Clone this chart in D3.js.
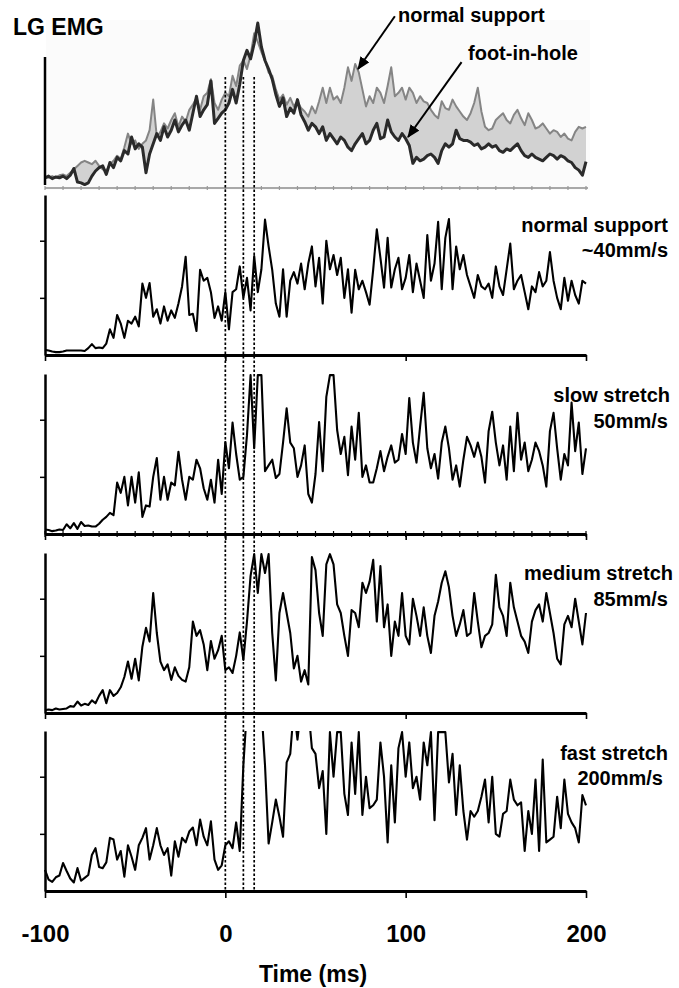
<!DOCTYPE html>
<html>
<head>
<meta charset="utf-8">
<script src="https://cdn.jsdelivr.net/npm/d3@7"></script>
<style>
  body { margin: 0; background: #fff; }
  text { font-family: "Liberation Sans", Arial, sans-serif; font-weight: bold; fill: #000; }
</style>
</head>
<body>
<svg id="chart"></svg>
<script>
var width = 679, height = 988;

// sampling: one value every 2 ms starting at -100 ms
var t0 = -100, step = 2;
var xTicks = [-100, 0, 100, 200];
var yTicks = [1, 2];
var markerTimes = [0, 10, 16];

// top panel (scanned figure): normal support vs foot-in-hole
var topNormal = [
  0.65,0.6,0.7,0.6,0.75,0.8,0.7,0.9,1.1,1.3,
  1.5,1.6,1.5,1.4,1.6,1.3,1.1,1.0,1.4,1.6,
  1.9,1.7,2.4,3.2,2.6,2.8,2.3,2.6,2.8,3.4,
  5.2,3.0,3.3,3.8,3.5,4.0,4.4,3.6,4.2,3.9,
  4.6,4.9,5.3,4.6,5.4,5.6,6.4,5.0,4.6,5.2,
  5.6,5.4,6.6,6.0,7.2,7.5,7.0,7.8,9.1,8.6,
  8.0,7.5,6.8,6.6,5.8,5.2,5.5,4.9,5.3,4.8,
  5.1,4.7,4.5,4.2,4.8,4.4,5.1,5.9,5.0,5.9,
  5.2,5.4,5.0,5.9,7.1,6.3,7.3,6.8,5.8,4.8,
  5.4,5.0,5.9,5.6,5.0,6.0,7.1,5.4,5.6,5.9,
  5.2,5.9,5.6,5.0,5.4,5.1,5.0,4.6,4.3,4.1,
  5.1,4.7,4.6,5.2,4.8,4.5,4.2,4.0,4.4,5.0,
  5.9,4.5,3.6,3.4,3.5,4.0,4.2,4.4,4.0,3.8,
  4.3,4.6,4.1,3.7,4.4,4.0,3.5,3.6,3.8,3.5,
  3.2,3.4,3.3,3.0,3.2,2.9,2.8,3.3,3.6,3.5,
  3.6];
var topHole = [
  0.6,0.7,0.55,0.65,0.6,0.7,0.55,0.75,1.15,0.35,
  0.3,0.2,0.3,0.7,1.0,1.2,1.3,0.8,1.5,1.2,
  1.8,1.6,2.2,2.0,3.0,2.3,2.6,2.4,0.9,2.0,
  2.6,3.2,2.8,3.6,3.0,3.4,4.0,3.3,3.7,4.0,
  3.4,4.4,5.4,4.2,4.6,4.9,6.3,3.8,4.1,4.4,
  4.6,5.0,5.8,5.0,6.1,7.5,8.1,7.6,8.5,9.7,
  8.3,7.5,7.0,6.4,5.5,4.8,5.3,4.2,4.7,4.4,
  5.2,4.3,3.9,3.4,3.8,3.6,3.2,3.6,2.8,3.2,
  2.9,2.6,3.0,2.8,2.4,2.2,2.6,2.9,3.2,2.6,
  2.8,3.4,3.8,2.9,3.0,4.0,3.3,3.0,2.8,3.2,
  2.9,2.5,1.45,1.8,1.6,1.7,1.9,2.0,1.8,1.45,
  2.2,2.6,2.4,2.6,3.4,2.9,2.8,2.8,2.7,2.5,
  2.6,2.3,2.4,2.6,2.4,2.5,2.2,2.1,2.3,2.2,
  2.4,2.6,2.2,1.9,1.8,2.0,1.8,1.7,1.6,1.8,
  2.0,1.9,1.7,1.9,1.8,1.6,1.5,1.2,1.05,0.75,
  1.55];

// lower panels
var normal40 = [
  0.09,0.08,0.06,0.05,0.05,0.06,0.08,0.08,0.08,0.08,
  0.08,0.07,0.12,0.19,0.12,0.13,0.12,0.2,0.45,0.3,
  0.7,0.55,0.3,0.6,0.55,0.67,0.5,1.25,1.0,1.26,
  0.67,0.8,0.55,0.85,0.6,0.78,0.65,0.9,1.2,1.72,
  0.7,0.72,0.42,1.49,1.3,1.35,1.1,0.65,0.85,0.6,
  1.1,0.45,1.1,1.15,1.55,1.0,1.35,0.78,1.73,1.1,
  1.5,2.37,1.9,1.49,0.9,0.67,1.5,0.67,1.3,1.45,
  1.25,1.6,1.15,1.6,1.9,1.2,1.7,0.9,2.0,1.5,
  1.75,1.4,1.7,1.0,1.5,0.74,1.49,1.15,1.3,1.1,
  0.88,1.5,2.2,1.7,1.18,2.05,1.18,1.5,1.7,1.15,
  1.35,1.75,1.1,1.6,1.3,1.0,2.1,1.3,1.6,2.33,
  1.15,2.05,2.38,1.15,1.9,1.5,1.75,1.4,1.2,1.0,
  1.4,1.2,1.15,1.25,1.0,1.55,1.2,1.05,1.5,1.95,
  1.15,1.3,1.4,1.1,0.8,1.2,1.1,1.45,1.2,1.3,
  1.8,1.3,1.0,0.8,1.35,0.95,1.3,1.05,0.9,1.3,
  1.25];
var slow50 = [
  0.08,0.07,0.05,0.06,0.08,0.07,0.17,0.1,0.19,0.09,
  0.21,0.14,0.15,0.13,0.13,0.18,0.25,0.3,0.37,0.33,
  0.9,0.72,1.0,0.5,1.0,0.55,1.08,0.3,0.5,0.48,
  1.0,1.33,0.6,1.0,0.6,0.9,0.85,1.44,0.95,0.6,
  1.0,0.95,1.3,1.15,0.8,0.6,0.95,0.55,1.3,0.7,
  1.61,1.15,1.95,1.4,0.95,1.0,1.73,2.78,1.5,2.78,
  2.78,1.1,1.2,1.3,0.98,1.05,1.6,2.2,1.6,1.5,
  1.0,1.2,1.55,0.7,0.55,1.05,1.96,1.1,2.4,2.78,
  2.78,1.82,1.4,1.7,1.03,1.88,1.3,2.12,1.0,1.2,
  0.9,0.9,1.15,1.45,1.1,1.35,1.55,1.25,1.3,1.75,
  1.4,2.38,1.6,1.25,1.88,2.47,1.5,1.15,1.4,0.97,
  1.6,1.88,1.5,0.95,1.2,0.83,1.3,1.7,1.55,1.35,
  1.6,1.35,0.9,1.8,2.14,1.6,1.2,1.55,0.95,1.88,
  1.1,2.12,1.3,1.6,1.1,1.3,1.6,1.45,1.2,0.83,
  1.8,2.12,1.5,0.95,1.4,1.2,2.3,1.45,1.95,1.05,
  1.5];
var medium85 = [
  0.05,0.06,0.05,0.08,0.06,0.07,0.08,0.12,0.11,0.2,
  0.13,0.16,0.14,0.22,0.17,0.3,0.4,0.17,0.4,0.3,
  0.35,0.45,0.63,0.9,0.6,0.95,0.57,1.16,1.49,1.25,
  2.1,1.4,0.9,0.75,0.85,0.58,0.8,0.65,0.58,0.55,
  0.8,1.6,1.35,1.45,1.2,0.75,1.26,0.95,1.1,1.35,
  0.75,0.8,0.7,1.0,1.41,0.93,1.6,2.4,2.78,2.1,
  2.78,2.45,2.78,1.4,0.57,1.75,2.1,1.75,1.4,0.78,
  1.0,0.55,0.75,0.5,2.73,2.5,1.75,1.35,2.6,2.78,
  2.6,1.9,1.75,1.35,1.0,1.8,1.75,1.5,2.28,2.1,
  2.3,2.68,1.6,2.57,1.5,1.9,1.0,1.6,1.35,2.1,
  1.35,1.2,2.0,1.7,1.35,1.85,1.35,1.05,1.7,1.95,
  2.28,2.48,2.2,1.7,1.35,1.55,1.8,1.35,1.4,2.1,
  1.6,1.15,1.35,1.4,1.55,2.42,1.85,1.7,1.35,2.28,
  1.85,1.6,1.35,1.25,1.05,1.6,1.8,1.9,1.6,2.1,
  1.75,1.4,0.95,0.85,1.55,1.7,1.5,2.0,1.6,1.2,
  1.75];
var fast200 = [
  0.37,0.2,0.16,0.24,0.27,0.49,0.35,0.22,0.15,0.4,
  0.18,0.23,0.28,0.63,0.75,0.42,0.4,0.5,0.93,0.9,
  0.55,0.7,0.25,0.8,0.6,0.37,0.8,0.93,1.1,0.55,
  0.8,1.1,0.8,0.63,0.75,0.27,0.87,0.6,0.93,0.85,
  1.04,1.11,0.8,1.25,0.95,0.8,1.22,0.55,0.37,0.45,
  0.8,0.87,0.75,1.2,0.7,2.2,3.2,3.2,3.2,3.2,
  3.2,2.2,0.83,1.2,1.6,1.3,0.95,2.25,2.4,3.2,
  2.65,3.2,3.2,3.2,2.5,2.4,1.8,2.1,1.0,2.78,
  2.0,2.78,2.78,1.7,1.33,2.6,1.7,2.78,1.33,2.0,
  1.45,1.5,1.6,2.6,2.0,0.85,2.2,1.2,2.5,2.78,
  2.0,2.6,1.8,2.0,1.6,2.6,2.2,2.78,1.24,2.78,
  2.78,2.78,1.9,2.4,1.33,2.2,1.4,0.9,1.4,1.3,
  1.4,1.65,1.95,1.2,2.0,1.0,0.95,1.35,1.4,1.95,
  1.6,1.5,1.55,0.7,1.4,1.0,1.95,0.7,2.3,0.85,
  0.9,0.95,1.65,1.1,1.95,1.35,1.2,1.1,0.85,1.68,
  1.5];

var panelSeries = [normal40, slow50, medium85, fast200];
var panelLabels = [["normal support", "~40mm/s"], ["slow stretch", "50mm/s"],
                   ["medium stretch", "85mm/s"], ["fast stretch", "200mm/s"]];

// layout
var panelBase = [355, 534, 713, 891];
var panelH = 160;
var labelPos = [[232, 257], [402, 428], [580, 606], [760, 785]];
var labelRight = [[668, 668], [670, 668], [673, 668], [668, 663]];

var svg = d3.select("#chart").attr("width", width).attr("height", height);

var x = d3.scaleLinear().domain([-100, 200]).range([45, 586]);
var tOf = function(i) { return t0 + i * step; };

// ---------- top panel ----------
var yTop = d3.scaleLinear().domain([0, 10]).range([188, 18]);

var defs = svg.append("defs");
defs.append("filter").attr("id", "soft")
  .append("feGaussianBlur").attr("stdDeviation", 0.5);
defs.append("marker").attr("id", "arrow")
  .attr("viewBox", "0 0 12 10").attr("refX", 11).attr("refY", 5)
  .attr("markerWidth", 13).attr("markerHeight", 11)
  .attr("markerUnits", "userSpaceOnUse").attr("orient", "auto")
  .append("path").attr("d", "M0,0 L12,5 L0,10 Z").attr("fill", "#000");

var topG = svg.append("g").attr("filter", "url(#soft)");

topG.append("rect").attr("x", 46).attr("y", 20).attr("width", 544).attr("height", 170)
  .attr("fill", "#fbfbfb");

var idx = d3.range(topNormal.length);
topG.append("path")
  .datum(idx)
  .attr("fill", "#d2d2d2")
  .attr("d", d3.area()
    .x(function(i) { return x(tOf(i)); })
    .y0(function(i) { return yTop(topHole[i]); })
    .y1(function(i) { return yTop(topNormal[i]); }));

// gray baseline with small ticks
topG.append("line").attr("x1", 45).attr("x2", 588).attr("y1", yTop(0)).attr("y2", yTop(0))
  .attr("stroke", "#a8a8a8").attr("stroke-width", 2);
topG.selectAll(".tdot").data(d3.range(-100, 201, 10)).enter().append("line")
  .attr("x1", function(d) { return x(d); }).attr("x2", function(d) { return x(d); })
  .attr("y1", yTop(0) - 2).attr("y2", yTop(0) + 2)
  .attr("stroke", "#999").attr("stroke-width", 1.2);

var topLine = function(arr) {
  return d3.line().x(function(d, i) { return x(tOf(i)); }).y(function(d) { return yTop(d); })(arr);
};
topG.append("path").attr("d", topLine(topNormal))
  .attr("fill", "none").attr("stroke", "#858585").attr("stroke-width", 2)
  .attr("stroke-linejoin", "round");
topG.append("path").attr("d", topLine(topHole))
  .attr("fill", "none").attr("stroke", "#2a2a2a").attr("stroke-width", 3)
  .attr("stroke-linejoin", "round");

svg.append("line").attr("x1", 45).attr("x2", 45).attr("y1", 57).attr("y2", 185)
  .attr("stroke", "#000").attr("stroke-width", 2.5);

// ---------- lower panels ----------
panelSeries.forEach(function(series, p) {
  var base = panelBase[p];
  var y = d3.scaleLinear().domain([0, 2.8]).range([base, base - panelH]);
  var g = svg.append("g");

  defs.append("clipPath").attr("id", "clip" + p)
    .append("rect").attr("x", 40).attr("y", base - panelH).attr("width", 560).attr("height", panelH + 2);

  g.append("path")
    .attr("clip-path", "url(#clip" + p + ")")
    .attr("d", d3.line().x(function(d, i) { return x(tOf(i)); }).y(function(d) { return y(d); })(series))
    .attr("fill", "none").attr("stroke", "#000").attr("stroke-width", 2.1)
    .attr("stroke-linejoin", "round");

  var left = g.append("g").attr("transform", "translate(45,0)")
    .call(d3.axisLeft(y).tickValues(yTicks).tickSize(5).tickSizeOuter(0).tickFormat(""));
  left.select(".domain").attr("stroke-width", 2.5);
  left.selectAll(".tick line").attr("stroke-width", 1.5);

  var last = p === panelSeries.length - 1;
  var bottom = g.append("g").attr("transform", "translate(0," + base + ")")
    .call(d3.axisBottom(x).tickValues(xTicks).tickSize(last ? 7 : 6).tickSizeOuter(0)
      .tickPadding(27)
      .tickFormat(last ? function(d) { return String(d); } : ""));
  bottom.select(".domain").attr("stroke-width", 3.2);
  bottom.selectAll(".tick line").attr("stroke-width", 1.6);
  bottom.selectAll(".tick text").style("font-size", "24px").attr("fill", "#000");

  if (p === 1) {
    g.selectAll(".minor").data(d3.range(-100, 201, 10)).enter().append("line")
      .attr("x1", function(d) { return x(d); }).attr("x2", function(d) { return x(d); })
      .attr("y1", base - 3).attr("y2", base + 3)
      .attr("stroke", "#000").attr("stroke-width", 1.2);
  }

  panelLabels[p].forEach(function(s, k) {
    svg.append("text").attr("x", labelRight[p][k]).attr("y", labelPos[p][k])
      .attr("text-anchor", "end").style("font-size", "20px").text(s);
  });
});

// dotted event markers
svg.selectAll(".marker").data(markerTimes).enter().append("line")
  .attr("x1", function(d) { return x(d); }).attr("x2", function(d) { return x(d); })
  .attr("y1", 77).attr("y2", 891)
  .attr("stroke", "#000").attr("stroke-width", 1.7).attr("stroke-dasharray", "2.5,2");

// ---------- text and arrows ----------
svg.append("text").attr("x", 13).attr("y", 35).style("font-size", "23px").text("LG EMG");
svg.append("text").attr("x", 398).attr("y", 22).style("font-size", "20px").text("normal support");
svg.append("text").attr("x", 468).attr("y", 60).style("font-size", "20px").text("foot-in-hole");

var arrows = [
  { from: [94, 10.1], to: [73.6, 7.0] },
  { from: [131, 7.4], to: [101.3, 3.0] }
];
svg.selectAll(".arrow").data(arrows).enter().append("line")
  .attr("x1", function(d) { return x(d.from[0]); }).attr("y1", function(d) { return yTop(d.from[1]); })
  .attr("x2", function(d) { return x(d.to[0]); }).attr("y2", function(d) { return yTop(d.to[1]); })
  .attr("stroke", "#000").attr("stroke-width", 2).attr("marker-end", "url(#arrow)");

svg.append("text").attr("x", 313).attr("y", 982).attr("text-anchor", "middle")
  .style("font-size", "23px").text("Time (ms)");
</script>
</body>
</html>
